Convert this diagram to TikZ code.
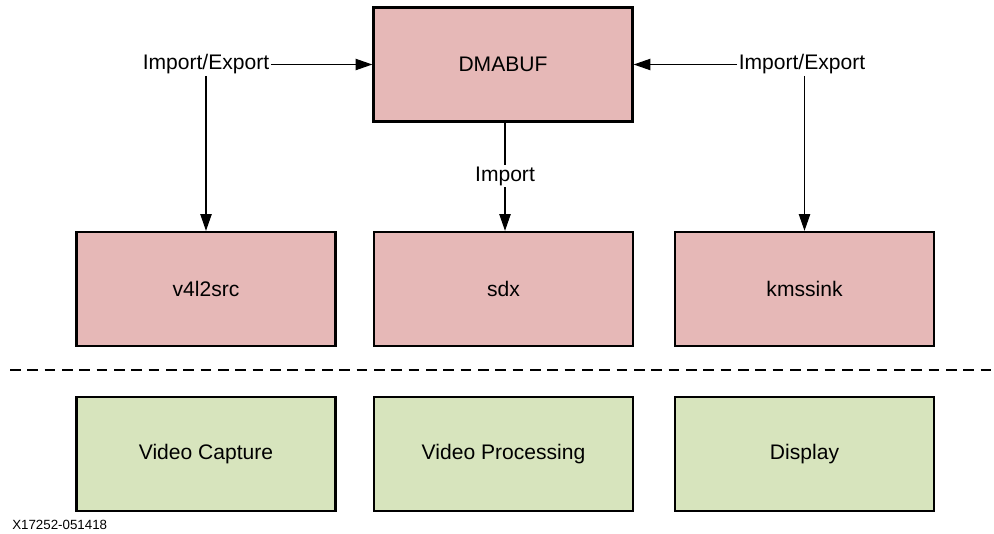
\documentclass[tikz,border=0pt]{standalone}
\usepackage{fontspec}
\setmainfont{Liberation Sans}
\usetikzlibrary{arrows.meta}
\definecolor{pinkfill}{HTML}{E6B8B7}
\definecolor{greenfill}{HTML}{D7E4BD}
\begin{document}
\begin{tikzpicture}[x=0.75pt,y=-0.75pt,
  box/.style={draw=black, line width=1.8pt, minimum width=259*0.75pt, minimum height=114*0.75pt, inner sep=0pt, font=\fontsize{15.8pt}{18pt}\selectfont},
  swbox/.style={box, fill=pinkfill},
  hwbox/.style={box, fill=greenfill},
  lbl/.style={inner sep=1pt, font=\fontsize{15.8pt}{18pt}\selectfont},
  arr/.style={line width=0.8pt, -{Triangle[length=12.5pt,width=8.5pt]}},
  ln/.style={line width=0.8pt}]
\useasboundingbox (0,0) rectangle (994,533);
\node[swbox] (dma) at (503,64.5) {DMABUF};
\node[swbox] (v4l) at (206,289) {v4l2src};
\node[swbox] (sdx) at (503.5,289) {sdx};
\node[swbox] (kms) at (804.5,289) {kmssink};
\node[hwbox] (cap) at (206,454) {Video Capture};
\node[hwbox] (proc) at (503.5,454) {Video Processing};
\node[hwbox] (disp) at (804.5,454) {Display};
\node[lbl] (l1) at (206,64.5) {Import/Export};
\node[lbl] (l2) at (802,64.5) {Import/Export};
\node[lbl] (l3) at (505,176) {Import};
\draw[arr] (l1.east) -- (dma.west);
\draw[arr] (l2.west) -- (dma.east);
\draw[arr] (l1.south) -- (v4l.north);
\draw[arr] (l2.south -| kms.north) -- (kms.north);
\draw[ln] (dma.south -| l3.north) -- (l3.north);
\draw[arr] (l3.south) -- (l3.south |- sdx.north);
\coordinate (d1) at (10,370);
\coordinate (d2) at (994,370);
\draw[line width=1pt, dash pattern=on 8pt off 5pt] (d1) -- (d2);
\node[anchor=west, inner sep=0pt, font=\fontsize{10pt}{12pt}\selectfont] (note) at (12,525) {X17252-051418};
\end{tikzpicture}
\end{document}
